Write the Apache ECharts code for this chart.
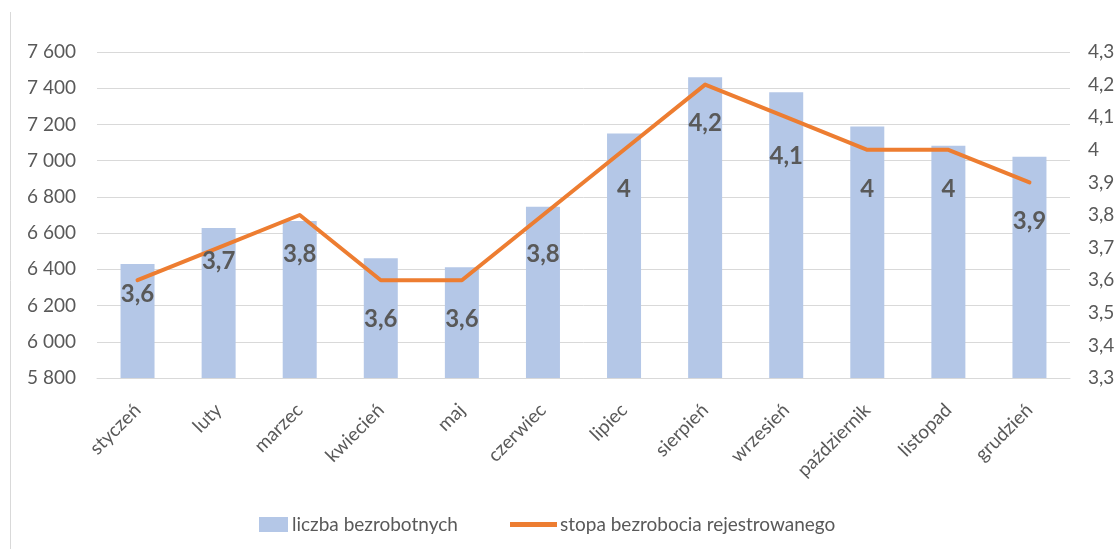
<!DOCTYPE html>
<html>
<head>
<meta charset="utf-8">
<script src="https://cdn.jsdelivr.net/npm/echarts@6/dist/echarts.min.js"></script>
<style>
html,body{margin:0;padding:0;background:#fff;}
#chart{width:1119px;height:549px;}
</style>
</head>
<body>
<div id="chart"></div>
<script>
const categories = ['styczeń','luty','marzec','kwiecień','maj','czerwiec','lipiec','sierpień','wrzesień','październik','listopad','grudzień'];
const unemployed = [6430, 6628, 6667, 6461, 6411, 6745, 7150, 7461, 7378, 7189, 7083, 7022];
const rate = [3.6, 3.7, 3.8, 3.6, 3.6, 3.8, 4.0, 4.2, 4.1, 4.0, 4.0, 3.9];
const leftTicks = {min: 5800, max: 7600, step: 200};
const rightTicks = {min: 3.3, max: 4.3, step: 0.1};

const FONT = 'Lato, "Open Sans", sans-serif';
const GREY = '#595959';
const chart = echarts.init(document.getElementById('chart'), null, {renderer: 'canvas'});

// Excel placed the first two labels closer to their points
const nearLabel = new Set([0, 1]);

const lineData = rate.map((v, i) => nearLabel.has(i)
  ? {value: v, label: {distance: 2}}
  : v);

chart.setOption({
  animation: false,
  backgroundColor: '#fff',
  grid: {left: 97, right: 49, top: 52, bottom: 171, containLabel: false},
  legend: [{
    top: 510,
    left: 254,
    itemWidth: 29,
    itemHeight: 15,
    itemGap: 5,
    textStyle: {fontFamily: FONT, fontSize: 19, color: GREY, padding: [0, 0, 0, -1]},
    data: [{name: 'liczba bezrobotnych', icon: 'rect'}]
  }, {
    top: 510,
    left: 505,
    itemWidth: 47,
    itemHeight: 5,
    textStyle: {fontFamily: FONT, fontSize: 19, color: GREY, padding: [0, 0, 0, -2]},
    data: [{name: 'stopa bezrobocia rejestrowanego', icon: 'rect'}]
  }],
  graphic: [{
    type: 'line',
    shape: {x1: 10.5, y1: 12, x2: 10.5, y2: 549},
    style: {stroke: '#d9d9d9', lineWidth: 1}
  }],
  xAxis: {
    type: 'category',
    data: categories,
    axisTick: {show: false},
    axisLine: {lineStyle: {color: '#d9d9d9', width: 1}},
    axisLabel: {rotate: 45, margin: 29, fontFamily: FONT, fontSize: 19, color: GREY, interval: 0}
  },
  yAxis: [{
    type: 'value',
    min: leftTicks.min, max: leftTicks.max, interval: leftTicks.step,
    axisLine: {show: false}, axisTick: {show: false},
    splitLine: {lineStyle: {color: '#d9d9d9', width: 1}},
    axisLabel: {
      margin: 21, fontFamily: FONT, fontSize: 19, color: GREY,
      formatter: v => String(Math.round(v)).replace(/\B(?=(\d{3})+(?!\d))/g, ' ')
    }
  }, {
    type: 'value',
    min: rightTicks.min, max: rightTicks.max, interval: rightTicks.step,
    axisLine: {show: false}, axisTick: {show: false},
    splitLine: {show: false},
    axisLabel: {
      margin: 18, fontFamily: FONT, fontSize: 19, color: GREY,
      formatter: v => String(Math.round(v * 10) / 10).replace('.', ',')
    }
  }],
  series: [{
    name: 'liczba bezrobotnych',
    type: 'bar',
    yAxisIndex: 0,
    data: unemployed,
    barWidth: 34,
    itemStyle: {color: '#B4C7E7'}
  }, {
    name: 'stopa bezrobocia rejestrowanego',
    type: 'line',
    yAxisIndex: 1,
    data: lineData,
    symbol: 'circle',
    symbolSize: 0,
    showSymbol: true,
    lineStyle: {color: '#ED7D31', width: 4, cap: 'round', join: 'round'},
    itemStyle: {color: '#ED7D31'},
    z: 3,
    label: {
      show: true,
      position: 'bottom',
      distance: 27,
      fontFamily: FONT,
      fontSize: 24,
      fontWeight: 'bold',
      color: GREY,
      formatter: p => String(p.value).replace('.', ',')
    }
  }]
});
</script>
</body>
</html>
